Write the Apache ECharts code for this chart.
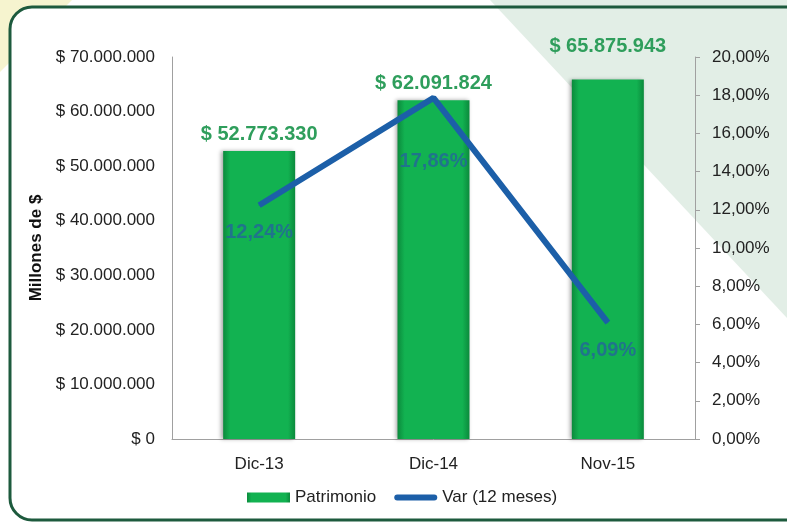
<!DOCTYPE html>
<html>
<head>
    <meta charset="utf-8">
    <title>Patrimonio</title>
    <script src="https://cdn.jsdelivr.net/npm/echarts@6/dist/echarts.min.js"></script>
    <style>
      html, body { margin: 0; padding: 0; background: #fff; }
    </style>
</head>
<body>
    <div id="main" style="width: 787px;height:523px;"></div>
    <script type="text/javascript">
      // datos
      var categorias = ['Dic-13', 'Dic-14', 'Nov-15'];
      var patrimonio = [52773330, 62091824, 65875943];
      var variacion = [0.1224, 0.1786, 0.0609];

      // separador de miles con punto
      function miles(v) {
        return String(Math.round(v)).replace(/\B(?=(\d{3})+(?!\d))/g, '.');
      }
      function pct(v) {
        return (v * 100).toFixed(2).replace('.', ',') + '%';
      }

      var barGrad = new echarts.graphic.LinearGradient(0, 0, 1, 0, [
        { offset: 0, color: '#0b8a3c' },
        { offset: 0.1, color: '#12b251' },
        { offset: 0.9, color: '#12b251' },
        { offset: 1, color: '#0b8a3c' }
      ]);

      var barOffsets = [[0, 0], [0, 0], [0, -16]];
      var lineOffsets = [[0, 0], [0, 36], [0, 0]];
      var fuente = 'Liberation Sans';

      var myChart = echarts.init(document.getElementById('main'));
      var option = {
        backgroundColor: '#fff',
        graphic: [
          // esquina amarilla
          { type: 'polygon', z: -30, silent: true,
            shape: { points: [[0, 0], [72, 0], [0, 72]] },
            style: { fill: '#f6f4cf' } },
          // interior blanco del marco
          { type: 'rect', z: -25, silent: true,
            shape: { x: 10, y: 7, width: 800, height: 513, r: 22 },
            style: { fill: '#fff' } },
          // franja verde claro
          { type: 'polygon', z: -20, silent: true,
            shape: { points: [[490, 0], [787, 0], [787, 318]] },
            style: { fill: '#e2eee6' } },
          // marco
          { type: 'rect', z: -10, silent: true,
            shape: { x: 10, y: 7, width: 800, height: 513, r: 22 },
            style: { fill: null, stroke: '#1d5a3d', lineWidth: 3 } }
        ],
        legend: {
          bottom: 12,
          left: 242,
          itemGap: 18,
          itemWidth: 43,
          itemHeight: 10,
          textStyle: { color: '#222', fontSize: 17, fontFamily: fuente },
          data: [
            { name: 'Patrimonio', icon: 'rect' },
            { name: 'Var (12 meses)', icon: 'path://M3,0 L40,0 A3,3 0 0 1 40,6 L3,6 A3,3 0 0 1 3,0 Z' }
          ]
        },
        grid: { left: 172, right: 92, top: 57, bottom: 84 },
        xAxis: {
          type: 'category',
          data: categorias,
          axisLine: { lineStyle: { color: '#a0a0a0' } },
          axisTick: { show: false },
          axisLabel: { color: '#222', fontSize: 17, margin: 17, fontFamily: fuente }
        },
        yAxis: [
          {
            type: 'value',
            min: 0, max: 70000000, interval: 10000000,
            name: 'Millones de $',
            nameLocation: 'middle',
            nameGap: 126,
            nameRotate: 90,
            nameTextStyle: { color: '#111', fontSize: 17, fontWeight: 'bold', fontFamily: fuente },
            axisLine: { show: true, lineStyle: { color: '#a0a0a0' } },
            axisTick: { show: false },
            splitLine: { show: false },
            axisLabel: {
              color: '#222', fontSize: 17, margin: 17, fontFamily: fuente,
              formatter: function (v) { return '$ ' + miles(v); }
            }
          },
          {
            type: 'value',
            min: 0, max: 0.2, interval: 0.02,
            axisLine: { show: true, lineStyle: { color: '#a0a0a0' } },
            axisTick: { show: true, length: 5, lineStyle: { color: '#a0a0a0' } },
            splitLine: { show: false },
            axisLabel: {
              color: '#222', fontSize: 17, margin: 17, fontFamily: fuente,
              formatter: function (v) { return pct(v); }
            }
          }
        ],
        series: [
          {
            name: 'Patrimonio',
            type: 'bar',
            barWidth: 72,
            data: patrimonio.map(function (v, i) {
              return { value: v, label: { offset: barOffsets[i] } };
            }),
            itemStyle: {
              color: barGrad,
              shadowColor: 'rgba(0,0,0,0.35)',
              shadowBlur: 4,
              shadowOffsetX: -2
            },
            label: {
              show: true,
              position: 'top',
              distance: 7,
              color: '#2f9e5c',
              fontSize: 20,
              fontWeight: 'bold',
              fontFamily: fuente,
              formatter: function (p) { return '$ ' + miles(p.value); }
            }
          },
          {
            name: 'Var (12 meses)',
            type: 'line',
            yAxisIndex: 1,
            symbol: 'circle',
            symbolSize: 1,
            showSymbol: true,
            data: variacion.map(function (v, i) {
              return { value: v, label: { offset: lineOffsets[i] } };
            }),
            lineStyle: { color: '#1c5fa8', width: 6 },
            itemStyle: { color: '#1c5fa8' },
            label: {
              show: true,
              position: 'bottom',
              distance: 17,
              color: 'rgba(35,105,150,0.85)',
              fontSize: 20,
              fontWeight: 'bold',
              fontFamily: fuente,
              formatter: function (p) { return pct(p.value); }
            }
          }
        ]
      };
      myChart.setOption(option);
    </script>
</body>
</html>
